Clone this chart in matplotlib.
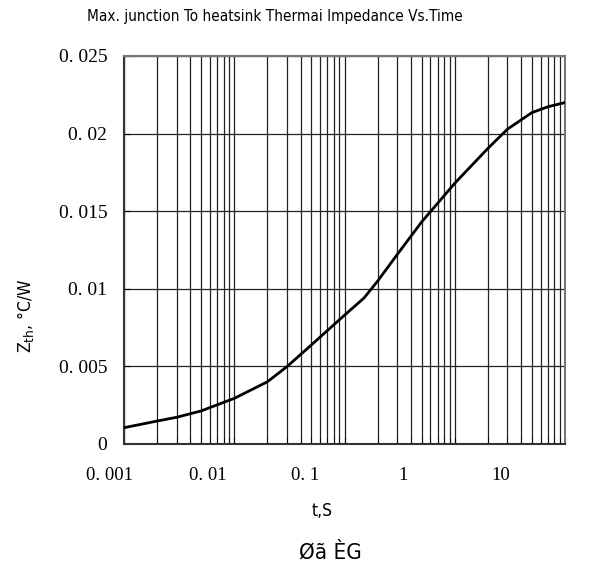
import numpy as np
import matplotlib.pyplot as plt
from matplotlib.ticker import LogLocator, FixedLocator, NullFormatter

# curve
t = [0.001, 0.002, 0.003, 0.005, 0.01, 0.02, 0.03, 0.05, 0.1, 0.15,
     0.2, 0.3, 0.5, 1, 2, 3, 5, 7, 10]
zth = [0.00105, 0.00148, 0.00172, 0.00213, 0.00294, 0.00401, 0.00498,
       0.00638, 0.0083, 0.0094, 0.0105, 0.0122, 0.0143, 0.0168, 0.01905,
       0.02028, 0.02135, 0.02173, 0.0220]

x_ticks = [0.001, 0.01, 0.1, 1, 10]
x_labels = ['0. 001', '0. 01', '0. 1', '1', '10']
y_ticks = [0, 0.005, 0.01, 0.015, 0.02, 0.025]
y_labels = ['0', '0. 005', '0. 01', '0. 015', '0. 02', '0. 025']

narrow = dict(family='DejaVu Sans', stretch='condensed')
serif = ['Liberation Serif', 'DejaVu Serif']

fig = plt.figure(figsize=(5.89, 5.70), dpi=100)
ax = fig.add_axes([124 / 589, 1 - 444 / 570, 441 / 589, 388 / 570])

ax.plot(t, zth, color='black', linewidth=2.0, zorder=3)
ax.set_xscale('log')
ax.set_xlim(0.001, 10)
ax.set_ylim(0, 0.025)

ax.xaxis.set_major_locator(FixedLocator(x_ticks))
ax.xaxis.set_minor_locator(LogLocator(base=10, subs=np.arange(2, 10)))
ax.xaxis.set_minor_formatter(NullFormatter())
ax.set_xticklabels([])
ax.set_yticks(y_ticks)
ax.set_yticklabels(y_labels, fontfamily=serif, fontsize=14)

# the x labels in the source sit on an evenly spaced row that is a bit
# narrower than the axis itself
for i, lab in enumerate(x_labels):
    ax.text(-0.032 + i * 0.2217, -0.08, lab, transform=ax.transAxes,
            ha='center', va='center', fontsize=13.5, family=serif)

ax.grid(True, which='both', axis='x', color='#222222', linewidth=0.9)
ax.grid(True, which='major', axis='y', color='#222222', linewidth=0.9)
ax.tick_params(which='both', direction='in', length=4)
ax.tick_params(axis='y', pad=12)
for s in ax.spines.values():
    s.set_color('#777777')
    s.set_linewidth(1.5)
ax.spines['left'].set_color('#333333')
ax.spines['bottom'].set_color('#333333')

fig.text(274.5 / 589, 1 - 16 / 570,
         'Max. junction To heatsink Thermai Impedance Vs.Time',
         ha='center', va='center', fontsize=11, **narrow)
fig.text(25 / 589, 1 - 316 / 570, r'Z$_{\rm th}$, °C/W', rotation=90,
         ha='center', va='center', fontsize=12.5, **narrow)
fig.text(322 / 589, 1 - 511 / 570, 't,S', ha='center', va='center',
         fontsize=12.5, **narrow)
fig.text(330 / 589, 1 - 552 / 570, 'Øã ÈG', ha='center', va='center',
         fontsize=16, **narrow)

fig.savefig('out.png', dpi=100)
